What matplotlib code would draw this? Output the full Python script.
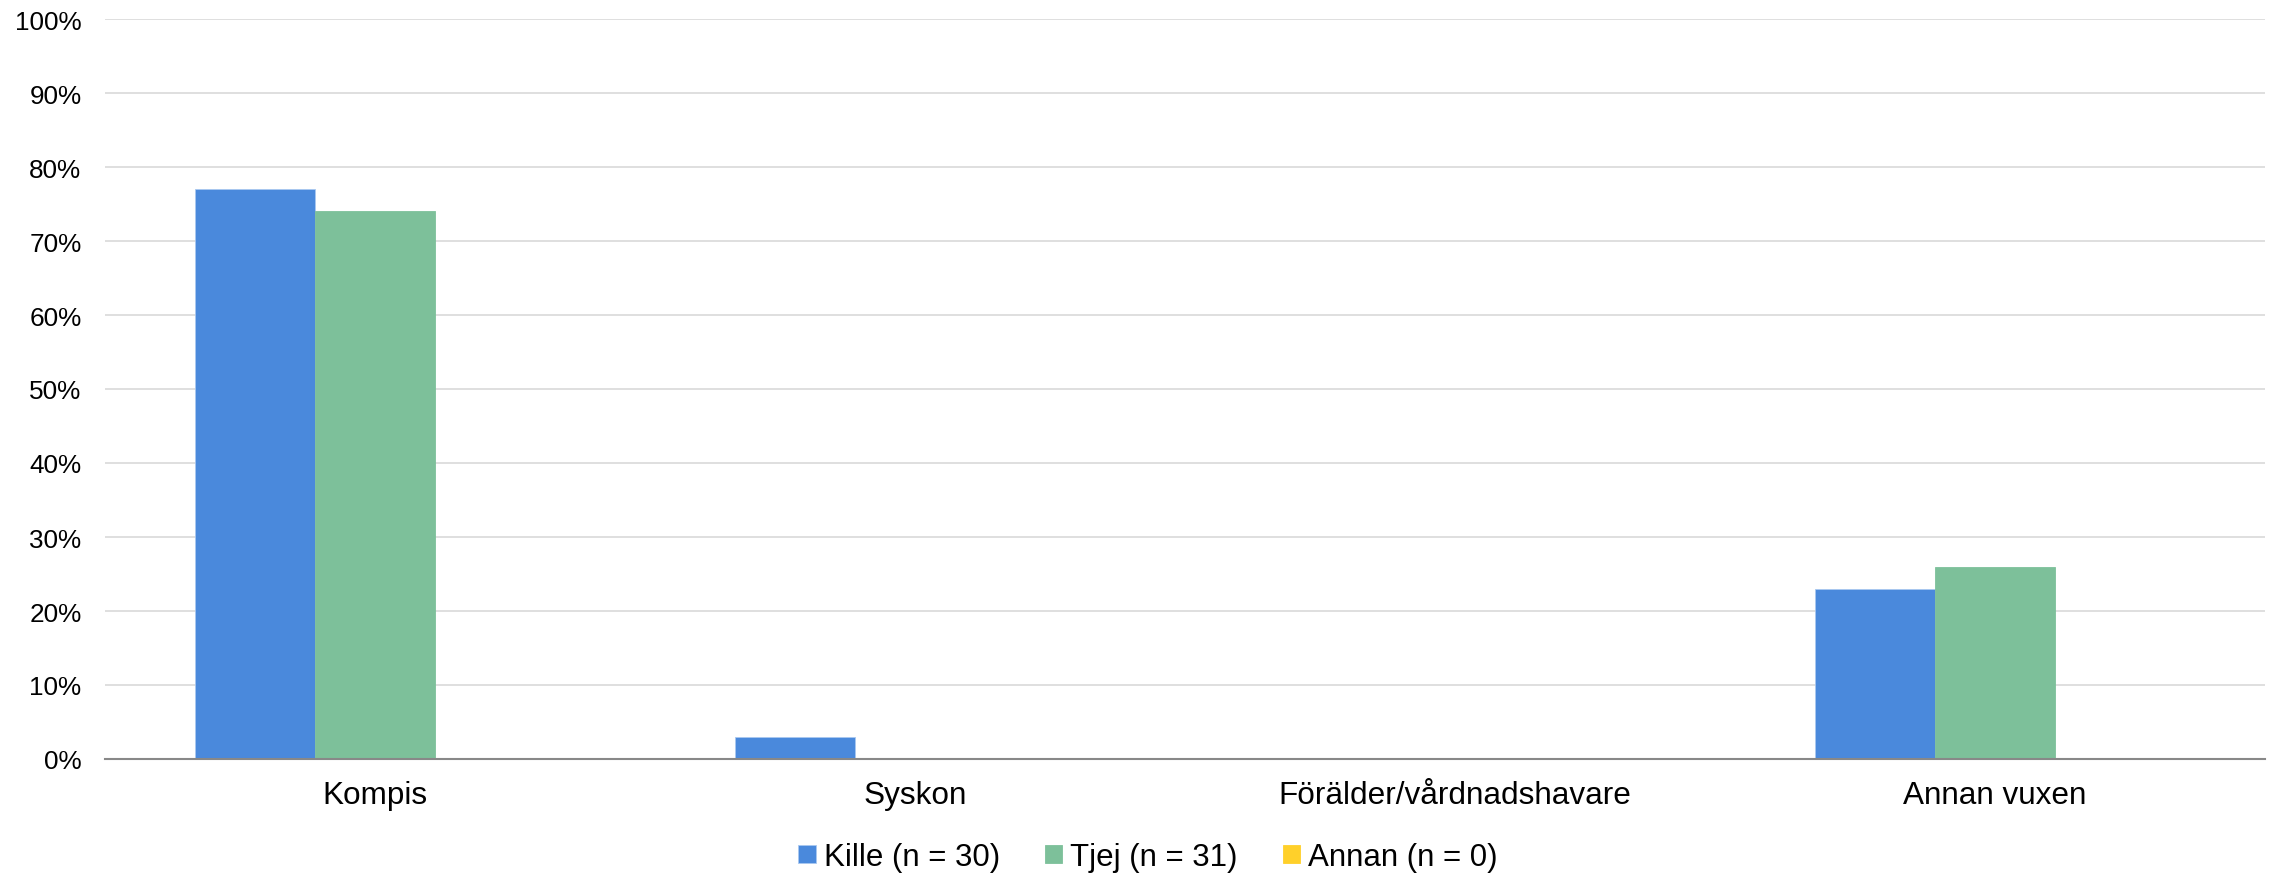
import numpy as np
import matplotlib.pyplot as plt
from matplotlib.ticker import PercentFormatter

plt.rcParams['font.family'] = ['Liberation Sans', 'DejaVu Sans']

categories = ["Kompis", "Syskon", "Förälder/vårdnadshavare", "Annan vuxen"]
series_names = ["Kille (n = 30)", "Tjej (n = 31)", "Annan (n = 0)"]
kille = [77, 3, 0, 23]
tjej = [74, 0, 0, 26]
annan = [0, 0, 0, 0]
yticks = [0, 10, 20, 30, 40, 50, 60, 70, 80, 90, 100]

colors = ['#4a89dc', '#7dc09a', '#ffd02a']

fig = plt.figure(figsize=(22.77, 8.78), dpi=100)
ax = fig.add_axes([105 / 2277, 118 / 878, 2160 / 2277, 740 / 878])

x = np.arange(len(categories))
width = 2 / 9
for i, (vals, name) in enumerate(zip([kille, tjej, annan], series_names)):
    ax.bar(x + (i - 1) * width, vals, width, color=colors[i], label=name,
           edgecolor='#a9c8f0' if i == 0 else colors[i], linewidth=0.6, zorder=3)

ax.set_xlim(-0.5, len(categories) - 0.5)
ax.set_ylim(0, 100)
ax.set_yticks(yticks)
ax.yaxis.set_major_formatter(PercentFormatter(decimals=0))
ax.set_xticks(x)
ax.set_xticklabels(categories)
ax.tick_params(axis='both', length=0, colors='black')
ax.tick_params(axis='y', pad=17, labelsize=18.8)
ax.tick_params(axis='x', pad=15, labelsize=22.7)

ax.grid(axis='y', color='#d9d9d9', linewidth=1.2, zorder=0)
for s in ['top', 'right', 'left']:
    ax.spines[s].set_visible(False)
ax.spines['bottom'].set_color('#888888')
ax.spines['bottom'].set_linewidth(1.5)
ax.spines['bottom'].set_zorder(4)

fig.legend(loc='center', bbox_to_anchor=(1148 / 2277, 20 / 878), ncol=3, frameon=False,
           fontsize=22.5, handlelength=0.55, handleheight=0.55, handletextpad=0.26,
           columnspacing=1.44, borderpad=0)

fig.savefig("out.png", dpi=100)
